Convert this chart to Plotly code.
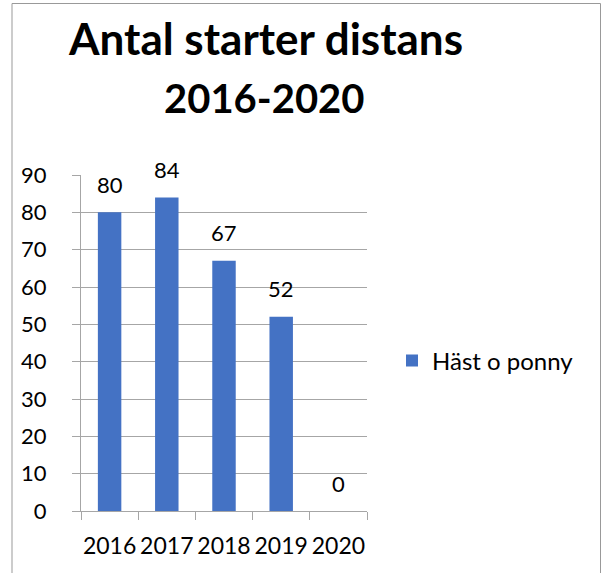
import plotly.graph_objects as go

years = ["2016", "2017", "2018", "2019", "2020"]
values = [80, 84, 67, 52, 0]
series_name = "Häst o ponny"
title_line1 = "Antal starter distans"
title_line2 = "2016-2020"

W, H = 606, 573
L, R, T, B = 81, 239, 175, 62
pw = W - L - R
ph = H - T - B

def px_x(x):
    return (x - L) / pw

def px_y(y):
    return (H - B - y) / ph

FONT = "Lato"
GRID = "#a6a6a6"

fig = go.Figure()
fig.add_trace(go.Bar(
    x=years, y=values, name=series_name,
    marker=dict(color="#4472C4", line=dict(width=0)),
    showlegend=True,
))

for i, v in enumerate(values):
    fig.add_annotation(x=i, y=v, xref="x", yref="y", text=str(v),
                       showarrow=False, yanchor="middle", yshift=28,
                       font=dict(family=FONT, size=22, color="#000"))

fig.add_annotation(xref="paper", yref="paper", x=px_x(265), y=px_y(38.3),
                   text=f"<b>{title_line1}</b>", showarrow=False,
                   xanchor="center", yanchor="middle",
                   font=dict(family=FONT, size=44, color="#000"))
fig.add_annotation(xref="paper", yref="paper", x=px_x(264), y=px_y(98),
                   text=f"<b>{title_line2}</b>", showarrow=False,
                   xanchor="center", yanchor="middle",
                   font=dict(family=FONT, size=40, color="#000"))

fig.add_shape(type="rect", xref="paper", yref="paper",
              x0=px_x(12), x1=px_x(600.5), y0=px_y(590), y1=px_y(3.5),
              line=dict(color="#999999", width=1), fillcolor="rgba(0,0,0,0)",
              layer="below")

fig.update_layout(
    width=W, height=H,
    margin=dict(l=L, r=R, t=T, b=B, autoexpand=False),
    paper_bgcolor="white", plot_bgcolor="white",
    font=dict(family=FONT, color="#000"),
    bargap=0.59,
    legend=dict(x=px_x(392), y=px_y(361), xanchor="left", yanchor="middle",
                font=dict(family=FONT, size=24, color="#000"),
                bgcolor="rgba(0,0,0,0)"),
    xaxis=dict(type="category", tickson="boundaries", ticks="outside",
               ticklen=8, tickcolor=GRID, showline=True, linecolor=GRID,
               linewidth=1, showgrid=False, tickangle=0,
               tickfont=dict(family=FONT, size=23, color="#000"),
               ticklabelstandoff=14),
    yaxis=dict(range=[0, 90], dtick=10, ticks="outside", ticklen=8,
               tickcolor=GRID, showline=True, linecolor=GRID, linewidth=1,
               showgrid=True, gridcolor=GRID, gridwidth=1, zeroline=False,
               tickfont=dict(family=FONT, size=22, color="#000"),
               ticklabelstandoff=21),
)

fig.write_html("out.html", config={"displayModeBar": False},
               post_script="document.body.style.margin='0';document.body.style.overflow='hidden';")
